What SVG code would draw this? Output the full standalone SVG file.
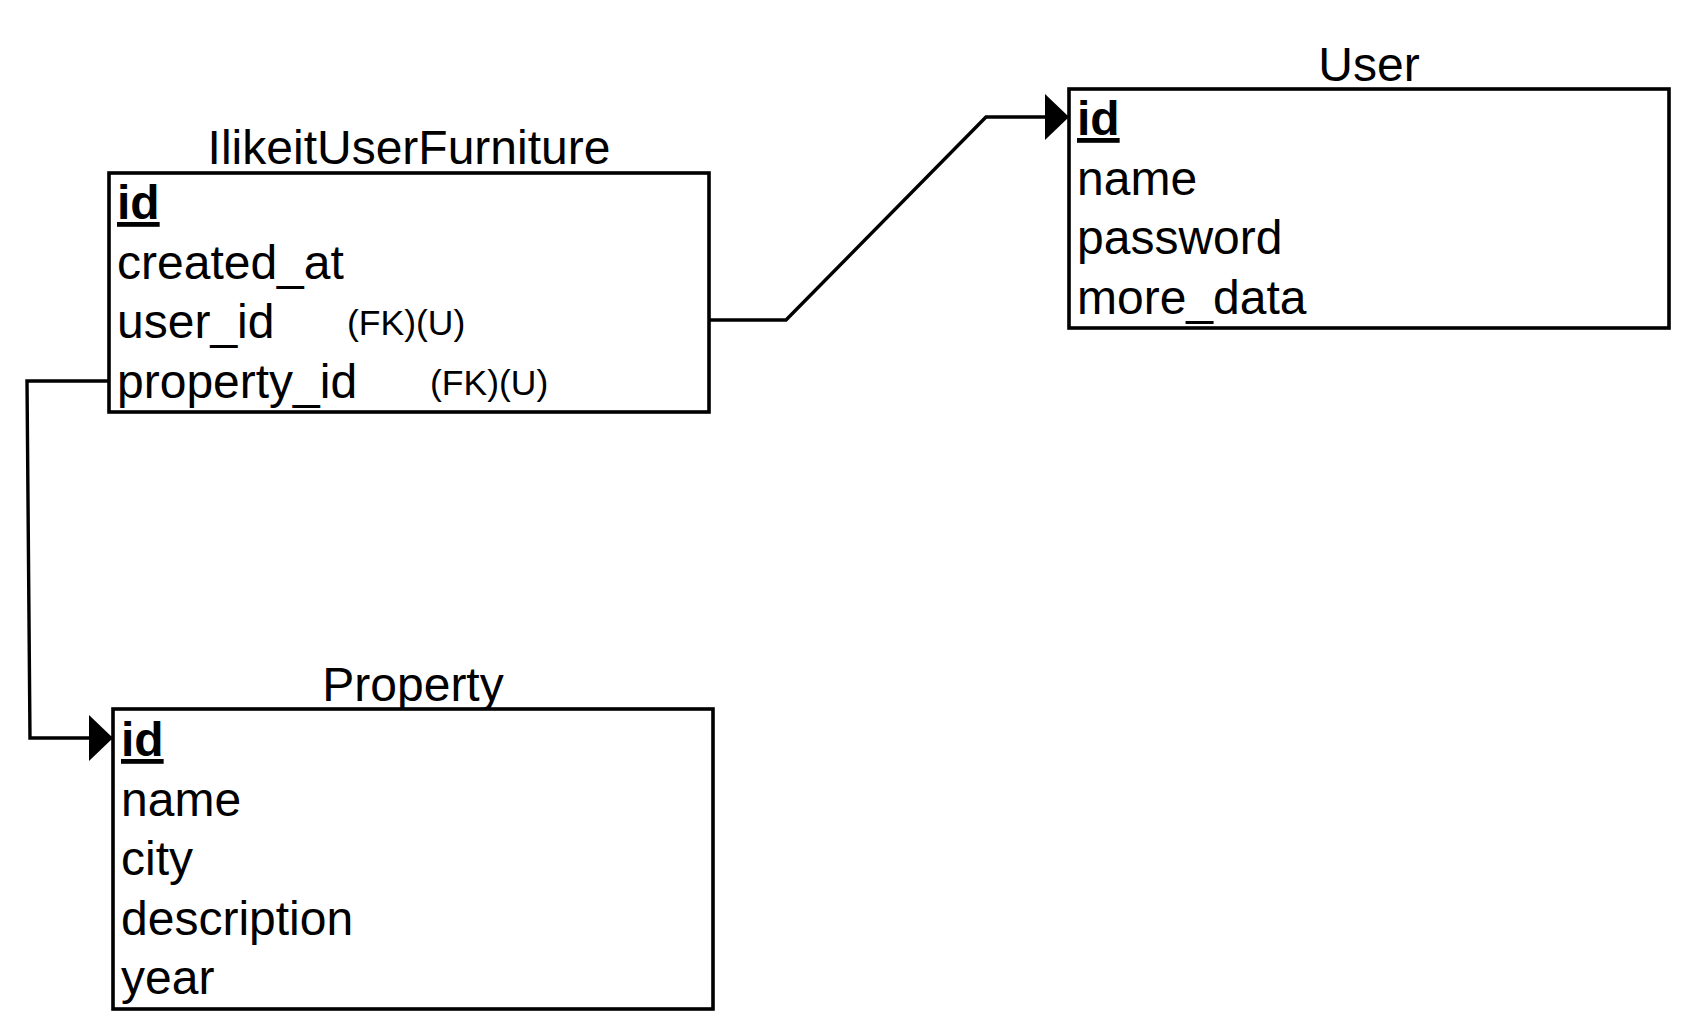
<svg xmlns="http://www.w3.org/2000/svg" width="1696" height="1036" viewBox="0 0 1696 1036">
<style>
.box{fill:#fff;stroke:#000;stroke-width:3.6}
.t{font-family:"Liberation Sans",Arial,sans-serif;font-size:48px;fill:#000}
.title{text-anchor:middle}
.pk{font-weight:bold;text-decoration:underline}
.fk{font-family:"Liberation Sans",Arial,sans-serif;font-size:35.5px;fill:#000}
.conn{fill:none;stroke:#000;stroke-width:3.4}
</style>
<defs>
<marker id="arr" markerUnits="userSpaceOnUse" markerWidth="26" markerHeight="48" refX="24" refY="23" orient="auto">
<path d="M0,0 L24,23 L0,46 Z" fill="#000"/>
</marker>
</defs>
<rect width="1696" height="1036" fill="#fff"/>
<g id="connectors">
<path class="conn" d="M708,320 L786,320 L986,117 L1069,117" marker-end="url(#arr)"/>
<path class="conn" d="M109,381 L27,381 L30,738 L113,738" marker-end="url(#arr)"/>
</g>
<g id="IlikeitUserFurniture">
<text class="t title" x="409" y="164">IlikeitUserFurniture</text>
<rect class="box" x="109" y="173" width="600" height="239"/>
<text class="t pk" x="117" y="219">id</text>
<text class="t" x="117" y="279">created_at</text>
<text class="t" x="117" y="338">user_id</text>
<text class="fk" x="347" y="335">(FK)(U)</text>
<text class="t" x="117" y="398">property_id</text>
<text class="fk" x="430" y="395">(FK)(U)</text>
</g>
<g id="User">
<text class="t title" x="1369" y="81">User</text>
<rect class="box" x="1069" y="89" width="600" height="239"/>
<text class="t pk" x="1077" y="135">id</text>
<text class="t" x="1077" y="195">name</text>
<text class="t" x="1077" y="254">password</text>
<text class="t" x="1077" y="314">more_data</text>
</g>
<g id="Property">
<text class="t title" x="413" y="701">Property</text>
<rect class="box" x="113" y="709" width="600" height="300"/>
<text class="t pk" x="121" y="756">id</text>
<text class="t" x="121" y="816">name</text>
<text class="t" x="121" y="875">city</text>
<text class="t" x="121" y="935">description</text>
<text class="t" x="121" y="994">year</text>
</g>
</svg>
